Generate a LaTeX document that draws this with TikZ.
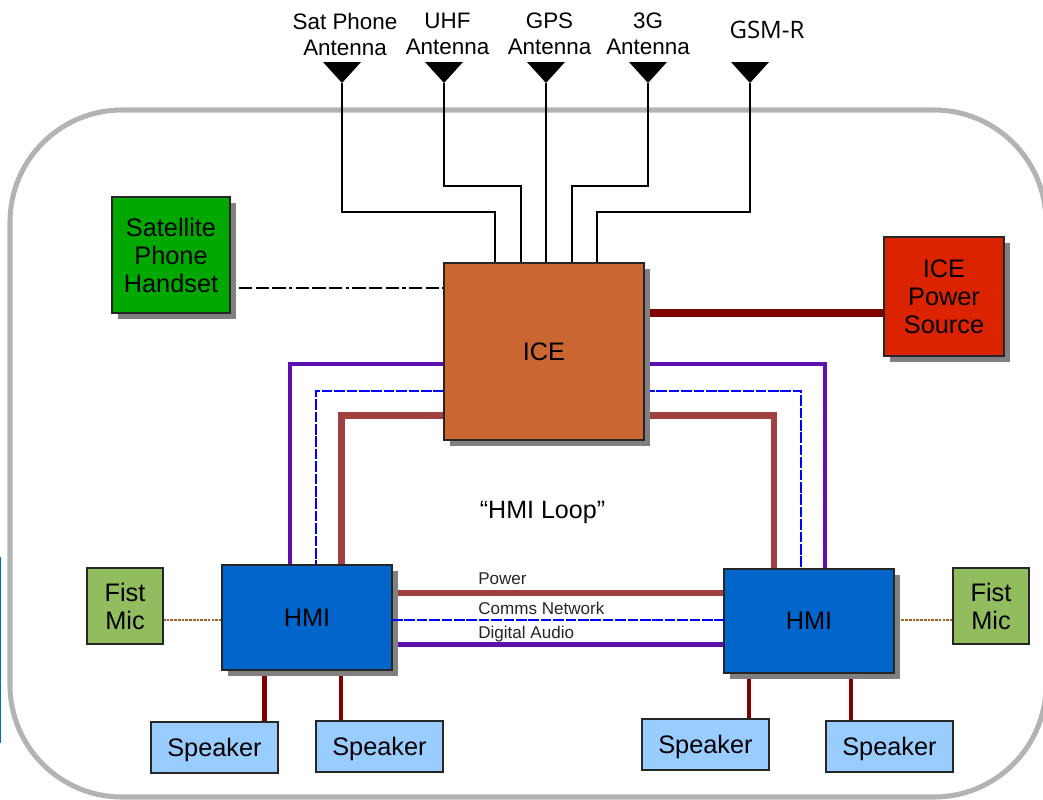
\documentclass[tikz,border=0pt]{standalone}
\usepackage{fontspec}
\setmainfont{Liberation Sans}
\newfontfamily\altfont{Open Sans}
\usetikzlibrary{shadows,backgrounds}
\definecolor{frame}{HTML}{B3B3B3}
\definecolor{iceorange}{HTML}{C96632}
\definecolor{satgreen}{HTML}{00A800}
\definecolor{pwrred}{HTML}{DC2300}
\definecolor{hmiblue}{HTML}{0066CC}
\definecolor{micgreen}{HTML}{92BD5E}
\definecolor{spkblue}{HTML}{99CCFF}
\definecolor{darkred}{HTML}{800000}
\definecolor{loopred}{HTML}{A04040}
\definecolor{loopviolet}{HTML}{5C10AC}
\definecolor{loopblue}{HTML}{0000FF}
\definecolor{micline}{HTML}{A0622D}
\definecolor{sideblue}{HTML}{0070C0}
\tikzset{
  x=0.75pt,y=-0.75pt,
  box/.style={draw=black!85,line width=1pt,inner sep=0pt,outer sep=0pt,align=center,anchor=north west,font=\fontsize{19}{21}\selectfont},
  shadowbox/.style={box,drop shadow={shadow xshift=4.5pt,shadow yshift=-4.5pt,fill=black!50,opacity=1}},
  spkbox/.style={box,fill=spkblue,minimum width=95.25pt,minimum height=38.25pt,text depth=0pt},
  micbox/.style={box,fill=micgreen,minimum width=57pt,minimum height=57pt,text width=57pt},
  wire/.style={line width=1.5pt,black},
  antlabel/.style={align=center,font=\fontsize{16.8}{19.5}\selectfont,inner sep=0pt},
  buslabel/.style={font=\fontsize{12.8}{14}\selectfont,inner sep=0pt,anchor=west,text=black!85},
  powerline/.style={line width=6pt,darkred},
  dropline/.style={line width=3.3pt,darkred},
  redloop/.style={line width=5.2pt,loopred},
  redbus/.style={line width=4.5pt,loopred},
  violetloop/.style={line width=3.3pt,loopviolet},
  blueloop/.style={line width=1.6pt,loopblue,dash pattern=on 8pt off 1.3pt},
  micwire/.style={line width=1.5pt,micline,dash pattern=on 2pt off 0.8pt},
  satwire/.style={line width=1.5pt,black,dash pattern=on 10pt off 2.5pt on 10pt off 2.5pt on 10pt off 2.5pt on 2.5pt off 2.5pt},
}
\begin{document}
\begin{tikzpicture}
\useasboundingbox (0,0) rectangle (1043,800);

% nodes
\node[shadowbox,fill=iceorange,minimum width=150pt,minimum height=132.75pt] (ice) at (444,263) {ICE};
\node[shadowbox,fill=satgreen,minimum width=88.5pt,minimum height=87pt,text width=88.5pt] (sat) at (112,197) {Satellite\\Phone\\Handset};
\node[shadowbox,fill=pwrred,minimum width=90pt,minimum height=89.25pt,text width=90pt] (pwr) at (884,237) {ICE\\Power\\Source};
\node[shadowbox,fill=hmiblue,minimum width=127.5pt,minimum height=78.75pt] (hl) at (222,565) {HMI};
\node[shadowbox,fill=hmiblue,minimum width=127.5pt,minimum height=78pt] (hr) at (724,569) {HMI};
\node[micbox] (ml) at (87,568) {Fist\\Mic};
\node[micbox] (mr) at (953,568) {Fist\\Mic};
\node[spkbox] (s1) at (151,722) {Speaker};
\node[spkbox] (s2) at (316,721) {Speaker};
\node[spkbox] (s3) at (642,719) {Speaker};
\node[spkbox] (s4) at (826,721) {Speaker};

% antennas
\foreach \n/\xx in {a1/342,a2/444,a3/546,a4/648,a5/750}{
  \fill[black] (\xx-19,62) -- (\xx+19,62) -- (\xx,83) -- cycle;
  \coordinate (\n) at (\xx,83);
}
\node[antlabel] (l1) at (345,34) {Sat Phone\\Antenna};
\node[antlabel] (l2) at (447.5,34) {UHF\\Antenna};
\node[antlabel] (l3) at (549.5,34) {GPS\\Antenna};
\node[antlabel] (l4) at (648,34) {3G\\Antenna};
\node[font=\altfont\fontsize{18}{20}\selectfont,inner sep=0pt] (l5) at (767,30) {GSM-R};

% named ends
\coordinate (i1) at (495,263);
\coordinate (i2) at (521,263);
\coordinate (i3) at (546,263);
\coordinate (i4) at (572,263);
\coordinate (i5) at (597,263);
\coordinate (vl) at (289.7,565);
\coordinate (bl) at (316,565);
\coordinate (rl) at (341.5,565);
\coordinate (vr) at (825,569);
\coordinate (br) at (800.7,569);
\coordinate (rr) at (774,569);
\coordinate (d1) at (264.3,670);
\coordinate (d2) at (340.7,670);
\coordinate (d3) at (748.7,673);
\coordinate (d4) at (850.7,673);

\begin{scope}[on background layer]
\draw[sideblue,line width=1.5pt] (0,557) -- (0,743);
\node[draw=frame,line width=3.8pt,rounded corners=84pt,minimum width=1036*0.75pt,minimum height=687*0.75pt,anchor=north west,inner sep=0pt,outer sep=0pt] (frame) at (10,110) {};

% antenna wires
\draw[wire] (a1) -- (342,212) -| (i1);
\draw[wire] (a2) -- (444,186) -| (i2);
\draw[wire] (a3) -- (i3);
\draw[wire] (a4) -- (648,186) -| (i4);
\draw[wire] (a5) -- (750,212) -| (i5);

% ICE connections
\draw[powerline] (ice.east |- 0,312.7) -- (pwr.west |- 0,312.7);
\draw[satwire] (239,288) -- (ice.west |- 0,288);

% HMI loop
\draw[violetloop] (ice.west |- 0,364) -| (vl);
\draw[blueloop] (ice.west |- 0,390.7) -| (bl);
\draw[redloop] (ice.west |- 0,415.6) -| (rl);
\draw[violetloop] (ice.east |- 0,364) -| (vr);
\draw[blueloop] (ice.east |- 0,390.7) -| (br);
\draw[redloop] (ice.east |- 0,415.6) -| (rr);

\draw[redbus] (hl.east |- 0,593.3) -- (hr.west |- 0,593.3);
\draw[violetloop] (hl.east |- 0,644.3) -- (hr.west |- 0,644.3);

% mic wires
\draw[micwire] (ml.east |- 0,620) -- (hl.west |- 0,620);
\draw[micwire] (hr.east |- 0,620) -- (mr.west |- 0,620);

% speaker drops
\draw[dropline] (d1) -- (d1 |- s1.north);
\draw[dropline] (d2) -- (d2 |- s2.north);
\draw[dropline] (d3) -- (d3 |- s3.north);
\draw[dropline] (d4) -- (d4 |- s4.north);
\end{scope}

\draw[blueloop] (hl.east |- 0,619.7) -- (hr.west |- 0,619.7);

\node[buslabel] (tp) at (478,578.5) {Power};
\node[buslabel] (tc) at (478,608) {Comms Network};
\node[buslabel] (td) at (478,634) {Digital Audio};
\node[font=\fontsize{18.8}{21}\selectfont,inner sep=0pt] (loop) at (542.5,512) {“HMI Loop”};
\end{tikzpicture}
\end{document}
